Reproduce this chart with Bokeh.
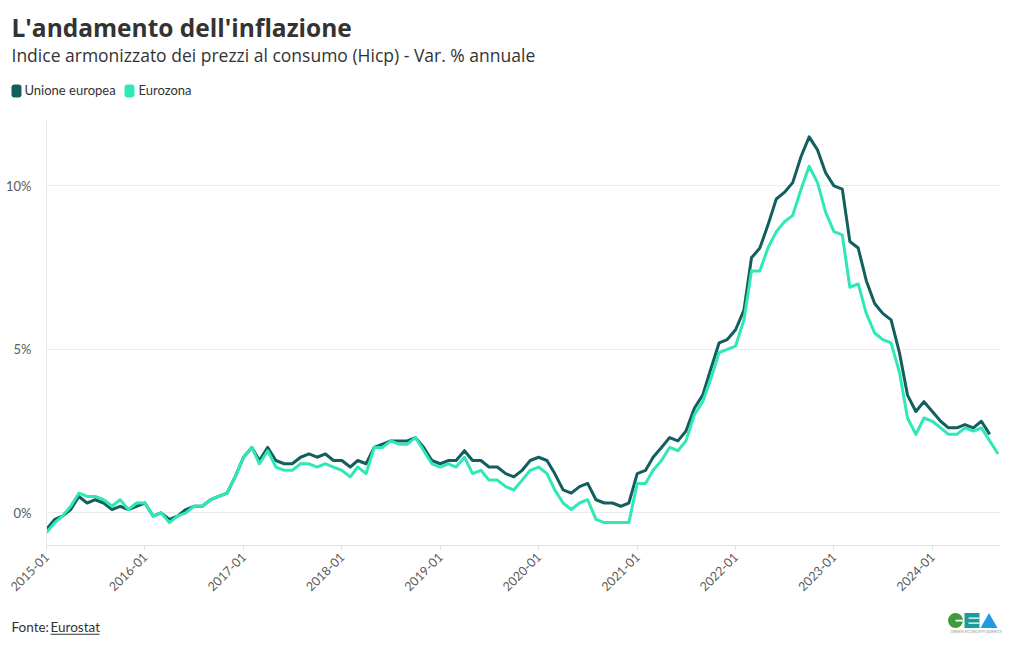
import numpy as np
import pandas as pd
from math import pi
from bokeh.plotting import figure
from bokeh.layouts import column, row
from bokeh.models import (Range1d, FixedTicker, DatetimeTickFormatter, PrintfTickFormatter, BoxAnnotation)
from bokeh.core.properties import value
from bokeh.embed import file_html
from bokeh.resources import INLINE

# ---------------- data ----------------
start_month = "2015-01-01"
series_names = ["Unione europea", "Eurozona"]
eu = [
    -0.5, -0.2, -0.1, 0.1, 0.5, 0.3, 0.4, 0.3, 0.1, 0.2, 0.1, 0.2,
    0.3, -0.1, 0.0, -0.2, -0.1, 0.1, 0.2, 0.2, 0.4, 0.5, 0.6, 1.1,
    1.7, 2.0, 1.6, 2.0, 1.6, 1.5, 1.5, 1.7, 1.8, 1.7, 1.8, 1.6,
    1.6, 1.4, 1.6, 1.5, 2.0, 2.1, 2.2, 2.2, 2.2, 2.3, 2.0, 1.6,
    1.5, 1.6, 1.6, 1.9, 1.6, 1.6, 1.4, 1.4, 1.2, 1.1, 1.3, 1.6,
    1.7, 1.6, 1.2, 0.7, 0.6, 0.8, 0.9, 0.4, 0.3, 0.3, 0.2, 0.3,
    1.2, 1.3, 1.7, 2.0, 2.3, 2.2, 2.5, 3.2, 3.6, 4.4, 5.2, 5.3,
    5.6, 6.2, 7.8, 8.1, 8.8, 9.6, 9.8, 10.1, 10.9, 11.5, 11.1, 10.4,
    10.0, 9.9, 8.3, 8.1, 7.1, 6.4, 6.1, 5.9, 4.9, 3.6, 3.1, 3.4,
    3.1, 2.8, 2.6, 2.6, 2.7, 2.6, 2.8, 2.4,
]
ez = [
    -0.6, -0.3, -0.1, 0.2, 0.6, 0.5, 0.5, 0.4, 0.2, 0.4, 0.1, 0.3,
    0.3, -0.1, 0.0, -0.3, -0.1, 0.0, 0.2, 0.2, 0.4, 0.5, 0.6, 1.1,
    1.7, 2.0, 1.5, 1.9, 1.4, 1.3, 1.3, 1.5, 1.5, 1.4, 1.5, 1.4,
    1.3, 1.1, 1.4, 1.2, 2.0, 2.0, 2.2, 2.1, 2.1, 2.3, 1.9, 1.5,
    1.4, 1.5, 1.4, 1.7, 1.2, 1.3, 1.0, 1.0, 0.8, 0.7, 1.0, 1.3,
    1.4, 1.2, 0.7, 0.3, 0.1, 0.3, 0.4, -0.2, -0.3, -0.3, -0.3, -0.3,
    0.9, 0.9, 1.3, 1.6, 2.0, 1.9, 2.2, 3.0, 3.4, 4.1, 4.9, 5.0,
    5.1, 5.9, 7.4, 7.4, 8.1, 8.6, 8.9, 9.1, 9.9, 10.6, 10.1, 9.2,
    8.6, 8.5, 6.9, 7.0, 6.1, 5.5, 5.3, 5.2, 4.3, 2.9, 2.4, 2.9,
    2.8, 2.6, 2.4, 2.4, 2.6, 2.5, 2.6, 2.2, 1.8,
]
x_tick_labels = ["2015-01", "2016-01", "2017-01", "2018-01", "2019-01",
                 "2020-01", "2021-01", "2022-01", "2023-01", "2024-01"]
y_ticks = [0, 5, 10]

# ---------------- style ----------------
FONT = "Lato"
HFONT = "Open Sans"
EU_COLOR = "#135e5e"
EZ_COLOR = "#2ee8b6"
TEXT = "#333333"
AXIS_TEXT = "#5a5a5a"
W = 1004
H_HEAD, H_MAIN, H_FOOT = 112, 493, 33
K = 0.4  # empirical baseline shift of text glyphs (fraction of font size)


def blank(h, y0):
    f = figure(width=W, height=h, x_range=Range1d(0, W), y_range=Range1d(y0 + h, y0),
               x_axis_location=None, y_axis_location=None, title=None, min_border=0,
               min_border_left=0, min_border_right=0, min_border_top=0, min_border_bottom=0,
               output_backend="svg", toolbar_location=None)
    f.outline_line_color = None
    f.grid.visible = False
    f.background_fill_color = "white"
    f.border_fill_color = "white"
    return f


def txt(f, x, base, s, size, font=FONT, **kw):
    f.text(x=[x], y=[base - K * size], text=[s], text_font=value(font), text_font_size=f"{size}px",
           text_baseline="alphabetic", **kw)


# ---------------- header ----------------
head = blank(H_HEAD, 0)
txt(head, 11, 36.7, "L'andamento dell'inflazione", 24.5, HFONT, text_font_style="bold", text_color=TEXT)
txt(head, 11, 61.7, "Indice armonizzato dei prezzi al consumo (Hicp) - Var. % annuale", 17.5, HFONT,
    text_color=TEXT)
for name, col, sw_x, tx in [(series_names[0], EU_COLOR, 11, 24), (series_names[1], EZ_COLOR, 124, 138)]:
    head.add_layout(BoxAnnotation(left=sw_x, right=sw_x + 10, top=84, bottom=97,
                                  fill_color=col, fill_alpha=1, line_color=None, border_radius=3))
    txt(head, tx, 95, name, 13, FONT, text_color=TEXT)

# ---------------- main chart ----------------
dates_eu = pd.date_range(start_month, periods=len(eu), freq="MS")
dates_ez = pd.date_range(start_month, periods=len(ez), freq="MS")
tick_ms = [pd.Timestamp(t + "-01").value / 1e6 for t in x_tick_labels]

p = figure(width=W, height=H_MAIN, x_axis_type="datetime", title=None,
           output_backend="svg", toolbar_location=None,
           x_range=Range1d(pd.Timestamp("2015-01-01"), pd.Timestamp("2024-09-10")),
           y_range=Range1d(-1, 12),
           min_border_left=46, min_border_right=4,
           min_border_top=8, min_border_bottom=60)
p.outline_line_color = None
p.background_fill_color = "white"
p.border_fill_color = "white"

p.line(dates_eu, eu, line_color=EU_COLOR, line_width=3, line_join="round")
p.line(dates_ez, ez, line_color=EZ_COLOR, line_width=3, line_join="round")

xa = p.xaxis[0]
xa.ticker = FixedTicker(ticks=tick_ms)
fmt = "%Y-%m"
xa.formatter = DatetimeTickFormatter(years=fmt, months=fmt, days=fmt, hours=fmt, hourmin=fmt,
                                     minutes=fmt, minsec=fmt, seconds=fmt, milliseconds=fmt,
                                     microseconds=fmt)
xa.major_label_orientation = pi / 4
xa.axis_line_color = "#e2e2e2"
xa.major_tick_line_color = "#e2e2e2"
xa.major_tick_out = 5
xa.major_tick_in = 0
xa.minor_tick_line_color = None
xa.major_label_text_font = FONT
xa.major_label_text_font_size = "12.5px"
xa.major_label_text_color = AXIS_TEXT
xa.major_label_standoff = 4

ya = p.yaxis[0]
ya.ticker = FixedTicker(ticks=y_ticks)
ya.formatter = PrintfTickFormatter(format="%d%%")
ya.axis_line_color = "#e8e8e8"
ya.major_tick_line_color = None
ya.minor_tick_line_color = None
ya.major_label_text_font = FONT
ya.major_label_text_font_size = "13px"
ya.major_label_text_color = AXIS_TEXT
ya.major_label_standoff = 9

p.xgrid.grid_line_color = None
p.ygrid.grid_line_color = "#ebebeb"
p.ygrid.ticker = FixedTicker(ticks=y_ticks)

# ---------------- footer ----------------
y0 = H_HEAD + H_MAIN
foot = blank(H_FOOT, y0)
txt(foot, 11, 632.3, "Fonte: ", 13.5, FONT, text_color=TEXT)
txt(foot, 50, 632.3, "Eurostat", 13.5, FONT, text_color=TEXT)
foot.add_layout(BoxAnnotation(left=50, right=99, top=633.3, bottom=634.3,
                              fill_color=TEXT, fill_alpha=1, line_color=None))
# logo
foot.ellipse(x=[955], y=[620], width=[15], height=[15], fill_color="#3f9b3a", line_color=None)
foot.quad(left=[955], right=[963], top=[619.2], bottom=[621], fill_color="white", line_color=None)
foot.quad(left=[964], right=[979], top=[612.5], bottom=[627.5], fill_color="#1b9c9c", line_color=None)
foot.quad(left=[968, 968], right=[979, 979], top=[617, 622], bottom=[618.2, 623.2],
          fill_color="white", line_color=None)
foot.patch(x=[980, 997, 988.5], y=[627.5, 627.5, 612.5], fill_color="#1f9be3", line_color=None)
txt(foot, 976, 633, "GREEN ECONOMY AGENCY", 4, FONT, text_color="#999999", text_align="center")

layout = column(row(head), row(p), row(foot), spacing=0)
open("out.html", "w").write(file_html(layout, INLINE))
